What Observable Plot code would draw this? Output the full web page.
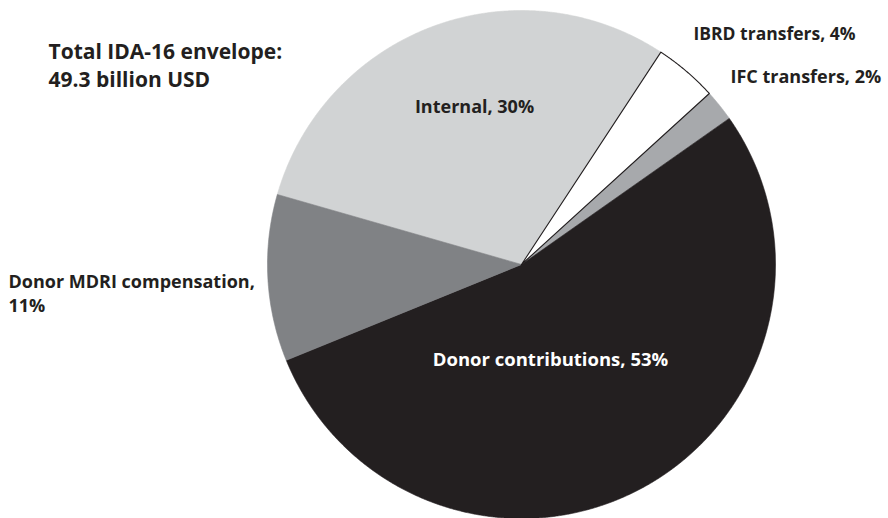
<!DOCTYPE html>
<html><head><meta charset="utf-8">
<script src="https://cdn.jsdelivr.net/npm/d3@7"></script>
<script src="https://cdn.jsdelivr.net/npm/@observablehq/plot@0.6"></script>
<style>html,body{margin:0;padding:0;background:#fff}#chart svg{display:block}</style>
</head><body><div id="chart"></div>
<script>
// ---- data ----
const categories = ["Internal", "IBRD transfers", "IFC transfers", "Donor contributions", "Donor MDRI compensation"];
const shares = [29.8, 4.0, 2.0, 53.6, 10.6];          // percent of total envelope
const shareLabels = ["30%", "4%", "2%", "53%", "11%"];
const titleLines = ["Total IDA-16 envelope:", "49.3 billion USD"];

// ---- styles / layout ----
const sliceColors = ["#d1d3d4", "#ffffff", "#a7a9ac", "#231f20", "#808285"];
const outlined = [false, true, false, false, false];
const W = 888, H = 518, CX = 521, CY = 264, R = 254;
const startDeg = 286;
const FONT = "'Open Sans', 'Noto Sans', sans-serif";
const labelLayout = [
  {px: 474, py: 105, anchor: "middle", color: "#231f20", breakLine: false, size: 18},
  {px: 693, py: 32, anchor: "start", color: "#231f20", breakLine: false, size: 17.5},
  {px: 730, py: 75, anchor: "start", color: "#231f20", breakLine: false, size: 18},
  {px: 550, py: 358, anchor: "middle", color: "#ffffff", breakLine: false, size: 18.5},
  {px: 8, py: 292, anchor: "start", color: "#231f20", breakLine: true, size: 18}
];
const titlePos = {px: 48, py: 64};

const toX = px => (px - CX) / R;
const toY = py => (CY - py) / R;

// ---- slice geometry from the shares ----
const start = startDeg * Math.PI / 180;
const arcs = d3.pie().sort(null).value(d => d).startAngle(start).endAngle(start + 2 * Math.PI)(shares);
const slicePts = [];
arcs.forEach((a, i) => {
  const pts = [{x: 0, y: 0}];
  const n = Math.max(4, Math.ceil((a.endAngle - a.startAngle) / (Math.PI / 720)));
  for (let k = 0; k <= n; k++) {
    const t = a.startAngle + (a.endAngle - a.startAngle) * k / n;
    pts.push({x: Math.sin(t), y: Math.cos(t)});
  }
  pts.push({x: 0, y: 0});
  pts.forEach(p => slicePts.push({...p, cat: categories[i], color: sliceColors[i], outline: outlined[i]}));
});

const labelMarks = categories.map((c, i) => {
  const L = labelLayout[i];
  const txt = c + "," + (L.breakLine ? "\n" : " ") + shareLabels[i];
  return Plot.text([txt], {
    x: toX(L.px), y: toY(L.py), text: d => d,
    textAnchor: L.anchor, fill: L.color, fontSize: L.size, fontWeight: 700, lineHeight: 1.3
  });
});

const chart = Plot.plot({
  width: W, height: H, margin: 0,
  x: {domain: [toX(0), toX(W)], axis: null},
  y: {domain: [toY(H), toY(0)], axis: null},
  color: {type: "identity"},
  style: {fontFamily: FONT, background: "#fff"},
  marks: [
    Plot.line(slicePts, {x: "x", y: "y", z: "cat", fill: "color", stroke: "color", strokeWidth: 0.6, curve: "linear"}),
    Plot.line(slicePts.filter(d => d.outline), {x: "x", y: "y", z: "cat", fill: "none", stroke: "#231f20", strokeWidth: 1.1, curve: "linear"}),
    ...labelMarks,
    Plot.text([titleLines.join("\n")], {
      x: toX(titlePos.px), y: toY(titlePos.py), text: d => d,
      textAnchor: "start", fill: "#231f20", fontSize: 21, fontWeight: 700, lineHeight: 1.33
    })
  ]
});
document.getElementById("chart").append(chart);
</script>
</body></html>
